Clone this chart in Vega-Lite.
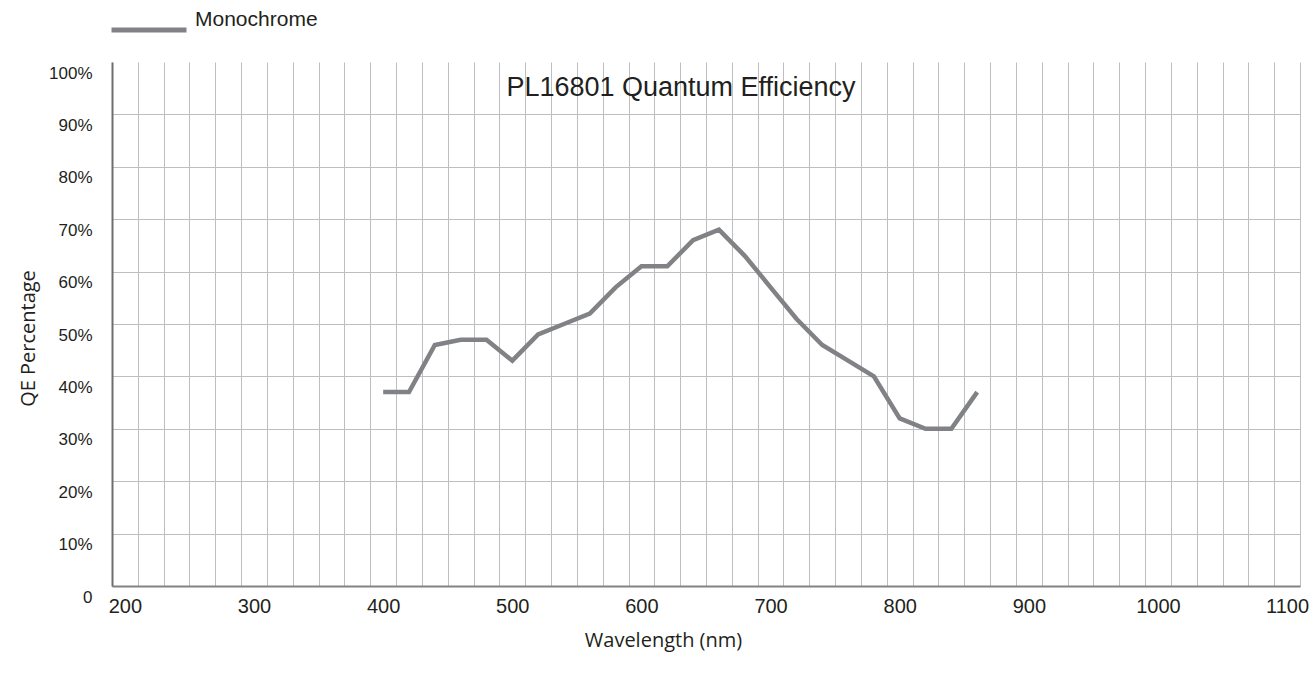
{
  "$schema": "https://vega.github.io/schema/vega-lite/v6.json",
  "width": 1188,
  "height": 524,
  "autosize": {"type": "none"},
  "padding": {"left": 112, "top": 62, "right": 14, "bottom": 89},
  "background": "white",
  "config": {"view": {"stroke": null}, "font": "Liberation Sans"},
  "title": {
    "text": "PL16801 Quantum Efficiency",
    "anchor": "middle",
    "frame": "group",
    "orient": "top",
    "offset": 0,
    "dx": -25,
    "dy": 133,
    "baseline": "alphabetic",
    "fontSize": 27,
    "font": "Liberation Sans",
    "fontWeight": "normal",
    "color": "#231f20"
  },
  "data": {
    "values": [
      {"wavelength": 400, "qe": 37, "series": "Monochrome"},
      {"wavelength": 420, "qe": 37, "series": "Monochrome"},
      {"wavelength": 440, "qe": 46, "series": "Monochrome"},
      {"wavelength": 460, "qe": 47, "series": "Monochrome"},
      {"wavelength": 480, "qe": 47, "series": "Monochrome"},
      {"wavelength": 500, "qe": 43, "series": "Monochrome"},
      {"wavelength": 520, "qe": 48, "series": "Monochrome"},
      {"wavelength": 540, "qe": 50, "series": "Monochrome"},
      {"wavelength": 560, "qe": 52, "series": "Monochrome"},
      {"wavelength": 580, "qe": 57, "series": "Monochrome"},
      {"wavelength": 600, "qe": 61, "series": "Monochrome"},
      {"wavelength": 620, "qe": 61, "series": "Monochrome"},
      {"wavelength": 640, "qe": 66, "series": "Monochrome"},
      {"wavelength": 660, "qe": 68, "series": "Monochrome"},
      {"wavelength": 680, "qe": 63, "series": "Monochrome"},
      {"wavelength": 700, "qe": 57, "series": "Monochrome"},
      {"wavelength": 720, "qe": 51, "series": "Monochrome"},
      {"wavelength": 740, "qe": 46, "series": "Monochrome"},
      {"wavelength": 760, "qe": 43, "series": "Monochrome"},
      {"wavelength": 780, "qe": 40, "series": "Monochrome"},
      {"wavelength": 800, "qe": 32, "series": "Monochrome"},
      {"wavelength": 820, "qe": 30, "series": "Monochrome"},
      {"wavelength": 840, "qe": 30, "series": "Monochrome"},
      {"wavelength": 860, "qe": 37, "series": "Monochrome"}
    ]
  },
  "mark": {"type": "line", "strokeWidth": 4.5, "strokeJoin": "miter"},
  "encoding": {
    "x": {
      "field": "wavelength",
      "type": "quantitative",
      "scale": {"domain": [190, 1110], "nice": false, "zero": false},
      "axis": {
        "values": [190,200,210,220,230,240,250,260,270,280,290,300,310,320,330,340,350,360,370,380,390,400,410,420,430,440,450,460,470,480,490,500,510,520,530,540,550,560,570,580,590,600,610,620,630,640,650,660,670,680,690,700,710,720,730,740,750,760,770,780,790,800,810,820,830,840,850,860,870,880,890,900,910,920,930,940,950,960,970,980,990,1000,1010,1020,1030,1040,1050,1060,1070,1080,1090,1100,1110],
        "labelExpr": "datum.value % 100 == 0 ? '' + datum.value : ''",
        "labelOverlap": false,
        "labelFlush": false,
        "ticks": false,
        "grid": true,
        "gridColor": "#bcbec0",
        "gridWidth": 1,
        "gridOpacity": {"condition": {"test": "datum.value % 20 == 10", "value": 1}, "value": 0},
        "domainColor": "#808285",
        "domainWidth": 2,
        "labelFontSize": 20,
        "labelFont": "Liberation Sans",
        "labelPadding": 10,
        "labelColor": "#231f20",
        "title": "Wavelength (nm)",
        "titleFont": "Open Sans",
        "titleFontSize": 20,
        "titleFontWeight": "normal",
        "titleColor": "#231f20",
        "titleX": 551,
        "titleY": 60,
        "titleAlign": "center",
        "titleBaseline": "alphabetic"
      }
    },
    "y": {
      "field": "qe",
      "type": "quantitative",
      "scale": {"domain": [0, 100], "nice": false},
      "axis": {
        "values": [0,10,20,30,40,50,60,70,80,90,100],
        "labelExpr": "datum.value == 0 ? '0' : datum.value + '%'",
        "ticks": false,
        "grid": true,
        "gridColor": "#bcbec0",
        "gridWidth": 1,
        "gridOpacity": {"condition": {"test": "datum.value == 100", "value": 0}, "value": 1},
        "domainColor": "#6d6e71",
        "domainWidth": 2,
        "labelFontSize": 17,
        "labelFont": "Liberation Sans",
        "labelPadding": 20,
        "labelOffset": 11,
        "labelColor": "#231f20",
        "title": "QE Percentage",
        "titleFont": "Open Sans",
        "titleFontSize": 20,
        "titleFontWeight": "normal",
        "titleColor": "#231f20",
        "titleX": -84,
        "titleY": 276,
        "titleAngle": -90,
        "titleAlign": "center",
        "titleBaseline": "middle"
      }
    },
    "color": {
      "field": "series",
      "type": "nominal",
      "scale": {"range": ["#818285"]},
      "legend": {
        "orient": "none",
        "legendX": -3,
        "legendY": -72,
        "title": null,
        "symbolType": "stroke",
        "symbolSize": 5625,
        "symbolStrokeWidth": 5,
        "labelFontSize": 21,
        "labelFont": "Liberation Sans",
        "labelColor": "#231f20",
        "labelOffset": 6,
        "labelBaseline": "bottom",
        "padding": 0
      }
    }
  }
}
